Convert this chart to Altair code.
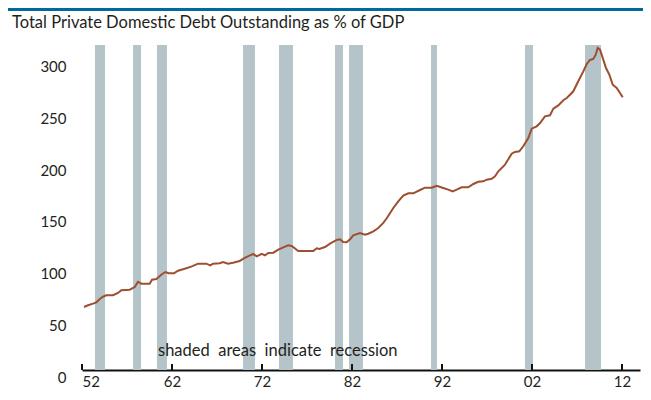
import altair as alt
import pandas as pd

# ---- data ----
years = [1952.22, 1952.67, 1953.22, 1953.59, 1953.97, 1954.33, 1954.70, 1955.44, 1956.00, 1956.37,
         1957.30, 1957.86, 1958.22, 1958.59, 1959.52, 1959.78, 1960.26, 1960.81, 1961.26, 1961.63,
         1962.22, 1962.67, 1963.41, 1964.14, 1964.89, 1965.81, 1966.26, 1966.56, 1967.30, 1967.67,
         1968.22, 1968.78, 1969.52, 1970.08, 1970.44, 1971.03, 1971.41, 1971.97, 1972.33, 1972.70,
         1973.26, 1973.81, 1974.37, 1974.92, 1975.30, 1976.03, 1977.70, 1978.08, 1978.37, 1979.00,
         1979.56, 1980.30, 1980.67, 1981.03, 1981.41, 1981.78, 1982.14, 1982.89, 1983.44, 1983.81,
         1984.37, 1984.92, 1985.48, 1985.86, 1986.59, 1987.14, 1987.70, 1988.26, 1988.81, 1989.56,
         1990.11, 1990.86, 1991.41, 1992.14, 1992.70, 1993.19, 1993.63, 1994.19, 1994.92, 1995.48,
         1996.03, 1996.59, 1996.97, 1997.52, 1997.89, 1998.26, 1999.00, 1999.74, 2000.11, 2000.59,
         2001.03, 2001.59, 2001.97, 2002.52, 2002.89, 2003.44, 2004.00, 2004.37, 2004.92, 2005.48,
         2005.86, 2006.22, 2006.59, 2007.14, 2007.70, 2008.08, 2008.44, 2008.81, 2009.08, 2009.30,
         2009.56, 2009.92, 2010.22, 2010.59, 2010.97, 2011.41, 2011.78, 2012.08]
debt_pct = [61.0, 62.6, 64.2, 65.5, 68.7, 70.9, 72.3, 72.3, 74.5, 77.1,
            77.7, 80.3, 85.4, 83.5, 83.5, 87.4, 88.1, 92.2, 94.8, 93.6,
            93.6, 96.1, 98.0, 100.0, 102.9, 102.9, 101.3, 102.9, 103.3, 104.5,
            102.9, 103.8, 105.5, 108.4, 110.0, 112.3, 110.0, 112.5, 111.0, 113.2,
            113.5, 116.4, 118.7, 120.7, 120.0, 115.2, 115.2, 117.8, 117.1, 119.0,
            122.2, 125.8, 126.5, 123.9, 123.6, 126.5, 130.3, 132.6, 130.9, 131.9,
            134.2, 137.4, 142.3, 146.8, 156.8, 163.2, 168.7, 171.0, 171.0, 174.2,
            176.4, 176.4, 178.3, 176.1, 174.5, 172.9, 174.5, 176.8, 176.8, 180.0,
            182.2, 182.6, 184.2, 185.1, 187.4, 192.3, 198.7, 209.3, 211.0, 211.6,
            216.5, 224.5, 233.5, 235.8, 239.0, 245.5, 246.5, 252.9, 256.1, 261.0,
            263.2, 266.4, 269.7, 279.4, 289.0, 296.1, 300.0, 301.0, 305.1, 311.6,
            310.0, 300.3, 292.2, 285.8, 276.1, 272.9, 268.1, 263.9]

rec_start = [1953.44, 1957.67, 1960.33, 1969.89, 1973.89, 1980.11, 1981.67, 1990.78, 2001.22, 2007.89]
rec_end = [1954.56, 1958.56, 1961.44, 1971.22, 1975.44, 1981.00, 1983.22, 1991.44, 2002.11, 2009.67]

tick_years = [1952, 1962, 1972, 1982, 1992, 2002, 2012]
y_ticks = [0, 50, 100, 150, 200, 250, 300]

title_text = "Total Private Domestic Debt Outstanding as % of GDP"
note_text = "shaded\u00a0 areas\u00a0 indicate\u00a0 recession"

# ---- tables ----
line_df = pd.DataFrame({"year": years, "pct": debt_pct})
rec_df = pd.DataFrame({"start": rec_start, "end": rec_end})
tick_df = pd.DataFrame({"year": tick_years})
one = pd.DataFrame({"t": [title_text]})
note_df = pd.DataFrame({"t": [note_text]})

W, H = 558, 325
FONT = "Lato"
TXT = "#231f20"

xs = alt.Scale(domain=[1952, 2014], nice=False, zero=False)
ys = alt.Scale(domain=[0, 314.5], nice=False)

x_axis = alt.Axis(values=tick_years, labelExpr="substring(toString(datum.value), 2, 4)",
                  domain=True, domainColor="#111111", domainWidth=2, ticks=False, grid=False,
                  labelPadding=4, labelFontSize=15, labelFont=FONT, labelColor=TXT, title=None)
y_axis = alt.Axis(values=y_ticks, domain=False, ticks=False, grid=False, labelPadding=16,
                  labelOffset=7, labelFontSize=15, labelFont=FONT, labelColor=TXT, title=None)

bands = alt.Chart(rec_df).mark_rect(color="#b4c4c8").encode(
    x=alt.X("start:Q", scale=xs, axis=x_axis),
    x2="end:Q",
    y=alt.value(0),
    y2=alt.value(H),
)

line = alt.Chart(line_df).mark_line(color="#9d4f2f", strokeWidth=2).encode(
    x=alt.X("year:Q", scale=xs, axis=x_axis),
    y=alt.Y("pct:Q", scale=ys, axis=y_axis),
)

ticks = alt.Chart(tick_df).mark_rule(color="#111111", strokeWidth=2).encode(
    x=alt.X("year:Q", scale=xs, axis=x_axis),
    y=alt.value(H - 6),
    y2=alt.value(H),
)

title = alt.Chart(one).mark_text(align="left", baseline="alphabetic", fontSize=16.5,
                                 font=FONT, color=TXT).encode(
    x=alt.value(-70), y=alt.value(-17), text="t:N")

note = alt.Chart(note_df).mark_text(align="left", baseline="middle", fontSize=16.5,
                                    font=FONT, color=TXT).encode(
    x=alt.value(76), y=alt.value(306), text="t:N")

topbar = alt.Chart(one).mark_rect(color="#006a9f").encode(
    x=alt.value(-74), x2=alt.value(561), y=alt.value(-37), y2=alt.value(-34))

chart = alt.layer(bands, line, ticks, note, title, topbar).properties(
    width=W, height=H,
    autosize=alt.AutoSizeParams(type="none"),
    padding={"left": 74, "top": 37, "right": 3, "bottom": 22},
).configure_view(stroke=None)

chart.save("out.html", embed_options={"renderer": "svg", "actions": False})
